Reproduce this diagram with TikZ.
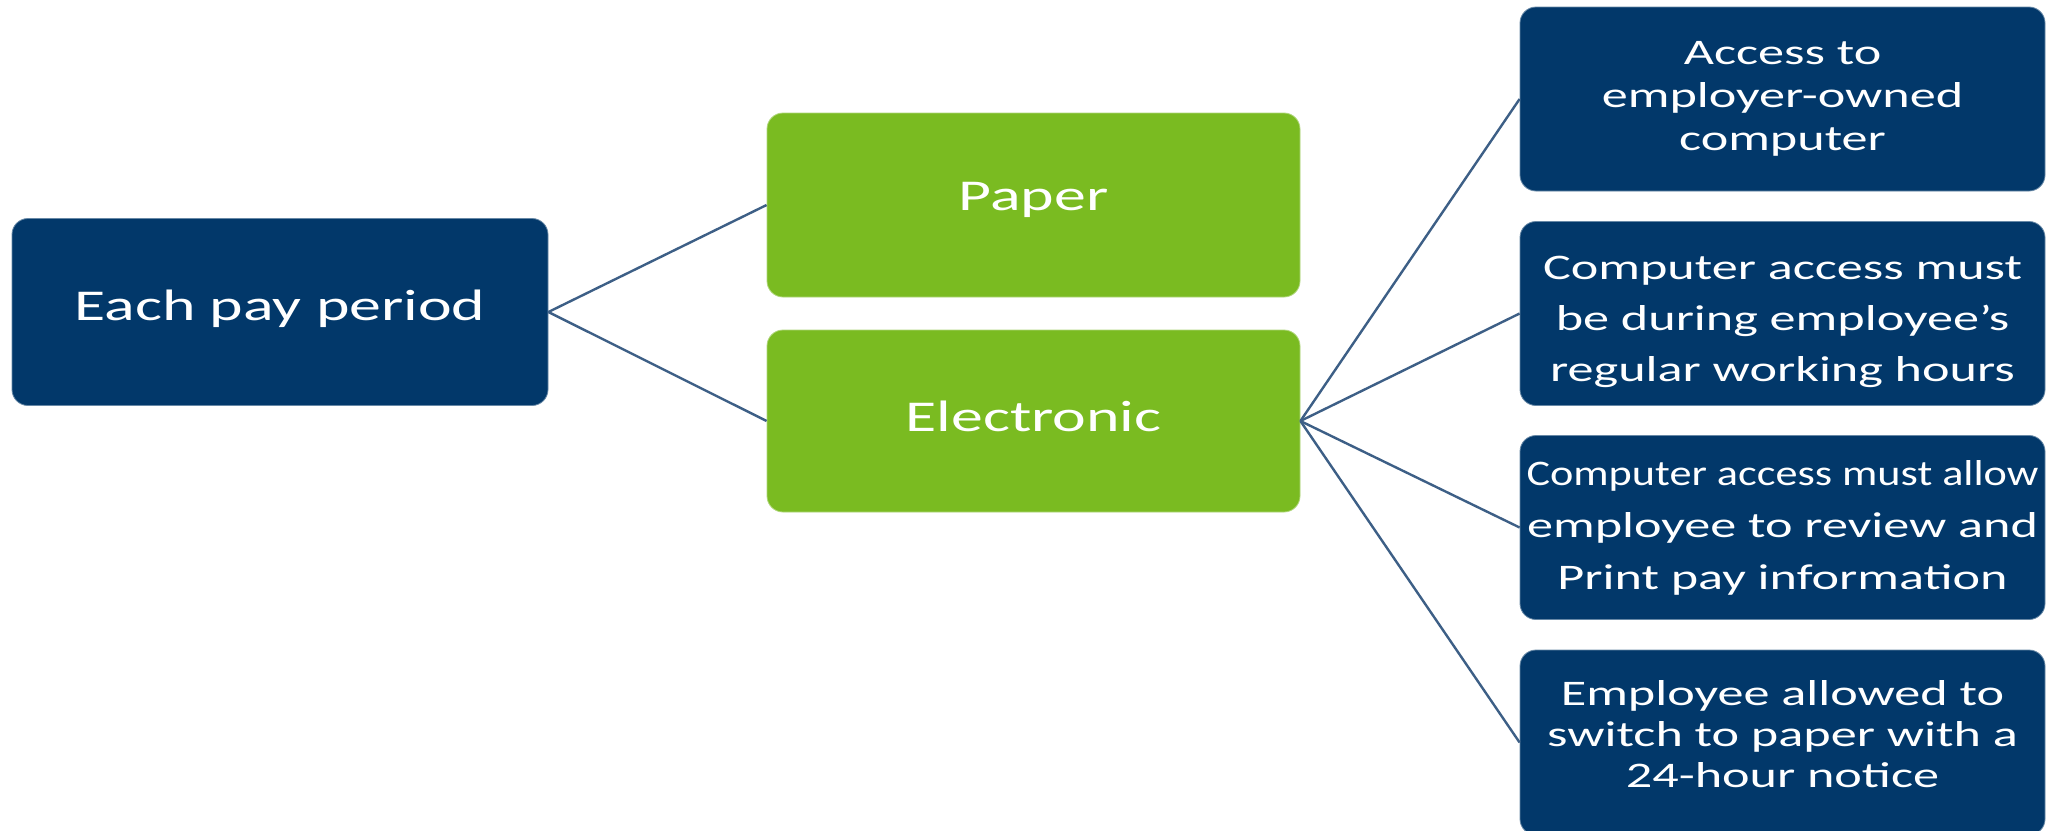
\documentclass[tikz,border=0pt]{standalone}
\usepackage{fontspec}
\setmainfont{Carlito}
\usepackage{graphicx}
\definecolor{navy}{HTML}{02386A}
\definecolor{leaf}{HTML}{7ABB21}
\definecolor{linkc}{HTML}{3D5F86}
\newcommand{\sx}[1]{\scalebox{1.45}[1]{#1}}
\newcommand{\deepstrut}[1]{\rule[-#1]{0pt}{#1}}
\begin{document}
\begin{tikzpicture}[x=1pt,y=-1pt,
  box/.style={rounded corners=16pt, inner sep=0pt, text=white, align=center, line width=0.8pt},
  navybox/.style={box, fill=navy, draw=navy!60!white},
  greenbox/.style={box, fill=leaf, draw=leaf!60!white, minimum width=533pt, font=\fontsize{44}{53}\selectfont},
  rbox/.style={navybox, minimum width=525pt, minimum height=184pt},
  link/.style={draw=linkc, line width=2.4pt}]
\useasboundingbox (0,0) rectangle (2047,830);
\clip (0,0) rectangle (2047,830);
\fill[white] (0,0) rectangle (2047,830);

\node[navybox, minimum width=536pt, minimum height=187pt, font=\fontsize{44}{53}\selectfont] (L) at (280,312) {\sx{Each pay period}\deepstrut{14pt}};

\node[greenbox, minimum height=184pt] (P) at (1033.5,205) {\sx{Paper}\deepstrut{17pt}};
\node[greenbox, minimum height=182pt] (E) at (1033.5,421) {\sx{Electronic}\deepstrut{10pt}};

\node[rbox, font=\fontsize{36}{43}\selectfont] (R1) at (1782.5,99)
  {\sx{Access to}\\\sx{employer-owned}\\\sx{computer}};
\node[rbox, font=\fontsize{36}{51}\selectfont] (R2) at (1782.5,313.5)
  {\rule{0pt}{40pt}\sx{Computer access must}\\\sx{be during employee’s}\\\sx{regular working hours}};
\node[rbox, font=\fontsize{36}{52}\selectfont] (R3) at (1782.5,527.5)
  {\resizebox{512pt}{\height}{Computer access must allow}\\\sx{employee to review and}\\\sx{Print pay information}};
\node[rbox, minimum height=185pt, font=\fontsize{36}{41}\selectfont] (R4) at (1782.5,742.5)
  {\sx{Employee allowed to}\\\sx{switch to paper with a}\\\sx{24-hour notice}\deepstrut{18pt}};

\draw[link] (L.east) -- (P.west);
\draw[link] (L.east) -- (E.west);
\draw[link] (E.east) -- (R1.west);
\draw[link] (E.east) -- (R2.west);
\draw[link] (E.east) -- (R3.west);
\draw[link] (E.east) -- (R4.west);
\end{tikzpicture}
\end{document}
